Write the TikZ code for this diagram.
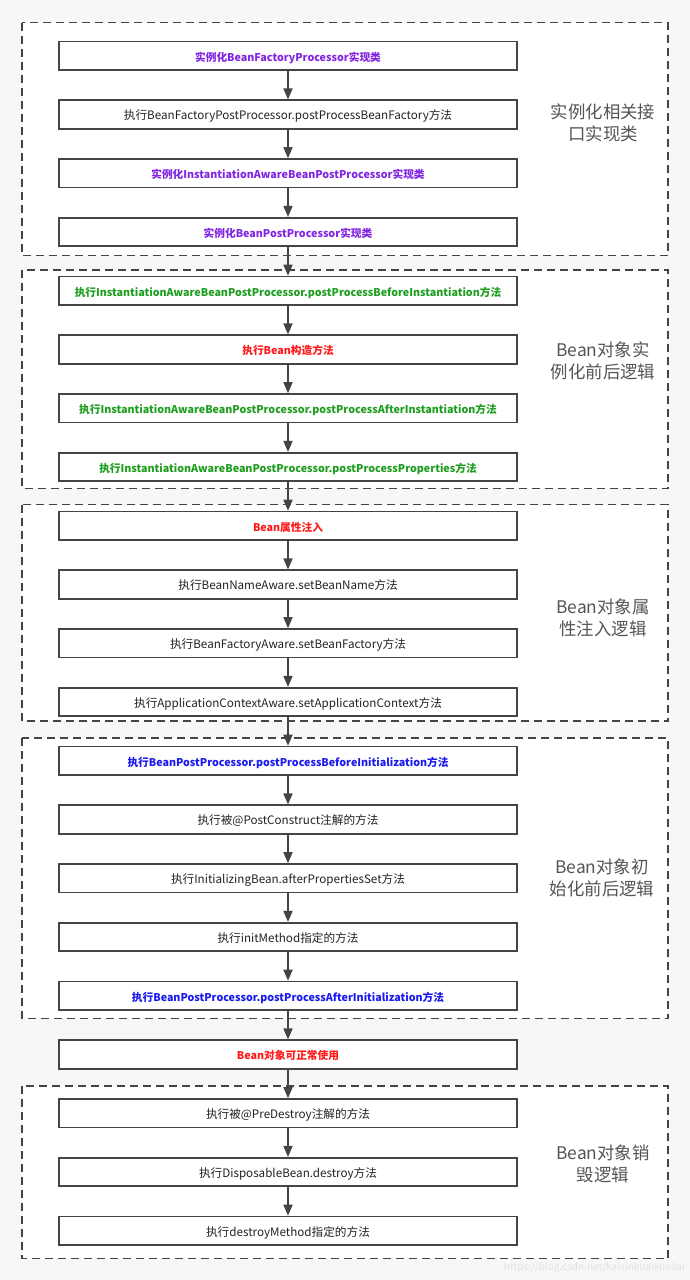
\documentclass[tikz,border=0pt]{standalone}
\usepackage{fontspec}
\setmainfont{Noto Sans CJK SC}
\newfontfamily\cjk{Noto Sans CJK SC}
\usetikzlibrary{arrows.meta}
\definecolor{bggray}{HTML}{F7F7F7}
\definecolor{edgegray}{HTML}{444444}
\definecolor{txtblack}{HTML}{222222}
\definecolor{cpurple}{HTML}{8224E3}
\definecolor{cgreen}{HTML}{1E9E1E}
\definecolor{cred}{HTML}{FF1A1A}
\definecolor{cblue}{HTML}{1A1AF0}
\definecolor{lblgray}{HTML}{555555}
\definecolor{wmgray}{HTML}{E2E2E2}
\tikzset{
  stepbox/.style={draw=edgegray, line width=1.6pt, fill=white, minimum width=458pt, minimum height=28.5pt, inner sep=0pt, text height=10.8pt, text depth=0pt, font=\cjk\fontsize{11.65}{13}\selectfont, text=txtblack},
  hlbox/.style={stepbox, font=\cjk\bfseries\fontsize{10.7}{13}\selectfont},
  purplebox/.style={hlbox, text=cpurple},
  greenbox/.style={hlbox, text=cgreen},
  redbox/.style={hlbox, text=cred},
  bluebox/.style={hlbox, text=cblue},
  groupbox/.style={draw=edgegray, line width=1.6pt, fill=white, dash pattern=on 8pt off 5pt},
  grouplabel/.style={text=lblgray, font=\cjk\fontsize{17.4}{21.5}\selectfont, align=center, inner sep=0pt},
  flow/.style={draw=edgegray, line width=1.6pt, -{Triangle[length=11pt,width=9pt]}},
}
\begin{document}
\begin{tikzpicture}[x=1pt,y=-1pt]
\fill[bggray] (0,0) rectangle (690,1280);
\useasboundingbox (0,0) rectangle (690,1280);
% groups
\draw[groupbox] (22,22.5) rectangle (668,255.5);
\draw[groupbox] (22,270) rectangle (668,488.5);
\draw[groupbox] (22,504.5) rectangle (668,721);
\draw[groupbox] (22,738) rectangle (668,1018.5);
\draw[groupbox] (22,1086) rectangle (668,1258.5);
\node[grouplabel] (l1) at (603,123) {实例化相关接\\口实现类};
\node[grouplabel] (l2) at (603,361) {Bean对象实\\例化前后逻辑};
\node[grouplabel] (l3) at (603,618) {Bean对象属\\性注入逻辑};
\node[grouplabel] (l4) at (602,878) {Bean对象初\\始化前后逻辑};
\node[grouplabel] (l5) at (603,1164) {Bean对象销\\毁逻辑};
% boxes
\node[purplebox] (b0) at (288,55.75) {实例化BeanFactoryProcessor实现类};
\node[stepbox] (b1) at (288,114.5) {执行BeanFactoryPostProcessor.postProcessBeanFactory方法};
\node[purplebox] (b2) at (288,173.25) {实例化InstantiationAwareBeanPostProcessor实现类};
\node[purplebox] (b3) at (288,232) {实例化BeanPostProcessor实现类};
\node[greenbox] (b4) at (288,290.75) {执行InstantiationAwareBeanPostProcessor.postProcessBeforeInstantiation方法};
\node[redbox] (b5) at (288,349.5) {执行Bean构造方法};
\node[greenbox] (b6) at (288,408.25) {执行InstantiationAwareBeanPostProcessor.postProcessAfterInstantiation方法};
\node[greenbox] (b7) at (288,467) {执行InstantiationAwareBeanPostProcessor.postProcessProperties方法};
\node[redbox] (b8) at (288,525.75) {Bean属性注入};
\node[stepbox] (b9) at (288,584.5) {执行BeanNameAware.setBeanName方法};
\node[stepbox] (b10) at (288,643.25) {执行BeanFactoryAware.setBeanFactory方法};
\node[stepbox] (b11) at (288,702) {执行ApplicationContextAware.setApplicationContext方法};
\node[bluebox] (b12) at (288,760.75) {执行BeanPostProcessor.postProcessBeforeInitialization方法};
\node[stepbox] (b13) at (288,819.5) {执行被@PostConstruct注解的方法};
\node[stepbox] (b14) at (288,878.25) {执行InitializingBean.afterPropertiesSet方法};
\node[stepbox] (b15) at (288,937) {执行initMethod指定的方法};
\node[bluebox] (b16) at (288,995.75) {执行BeanPostProcessor.postProcessAfterInitialization方法};
\node[redbox] (b17) at (288,1054.5) {Bean对象可正常使用};
\node[stepbox] (b18) at (288,1113.25) {执行被@PreDestroy注解的方法};
\node[stepbox] (b19) at (288,1172) {执行DisposableBean.destroy方法};
\node[stepbox] (b20) at (288,1230.75) {执行destroyMethod指定的方法};
% arrows
\foreach \a/\b in {b0/b1,b1/b2,b2/b3,b3/b4,b4/b5,b5/b6,b6/b7,b7/b8,b8/b9,b9/b10,b10/b11,b11/b12,b12/b13,b13/b14,b14/b15,b15/b16,b16/b17,b17/b18,b18/b19,b19/b20}
  \draw[flow] (\a.south) -- (\b.north);
\node[text=wmgray, font=\fontsize{10}{12}\selectfont, anchor=east, inner sep=0pt] (wm) at (685,1268) {https://blog.csdn.net/kaixinkuaikuailai};
\end{tikzpicture}
\end{document}
